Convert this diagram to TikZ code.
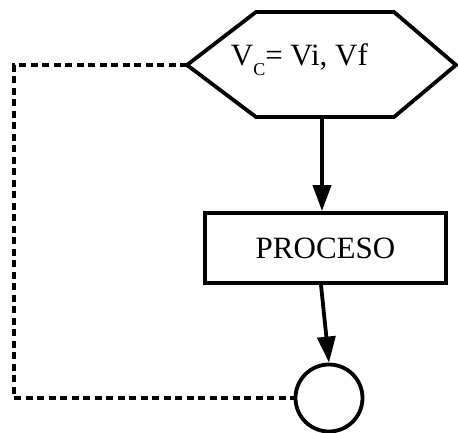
\documentclass[tikz,border=0pt]{standalone}
\usepackage{fontspec}
\setmainfont{Liberation Serif}
\usetikzlibrary{arrows.meta}
\begin{document}
\begin{tikzpicture}[x=1pt,y=-1pt,line width=3.8pt,
  lbl/.style={font=\fontsize{31}{36}\selectfont},
  arr/.style={-{Triangle[length=26pt,width=18pt]}},
  dashline/.style={dash pattern=on 7pt off 4.5pt}]
\useasboundingbox (0,0) rectangle (458,432);
% hexagon
\draw (187,65) coordinate (hexL) -- (256,12) -- (394,12) -- (456,65) -- (394,117) -- (256,117) -- cycle;
\coordinate (hexB) at (322,117);
\node[lbl,anchor=base west,inner sep=0] (vc) at (229,65)
  {V\raisebox{-10pt}{\fontsize{18}{18}\selectfont C}= Vi, Vf};
% process box
\node[lbl,draw,minimum width=241pt,minimum height=70pt,inner sep=0] (proc) at (325.5,248) {PROCESO};
% end circle
\node[draw,circle,minimum size=67pt,inner sep=0] (end) at (329,398) {};
% arrows
\draw[arr] (hexB) -- (hexB |- proc.north);
\coordinate (pb) at (321,0);
\draw[arr] (proc.south -| pb) -- (end.north);
% dashed loop
\draw[dashline] (hexL) -- (14,65) |- (end.west);
\end{tikzpicture}
\end{document}
